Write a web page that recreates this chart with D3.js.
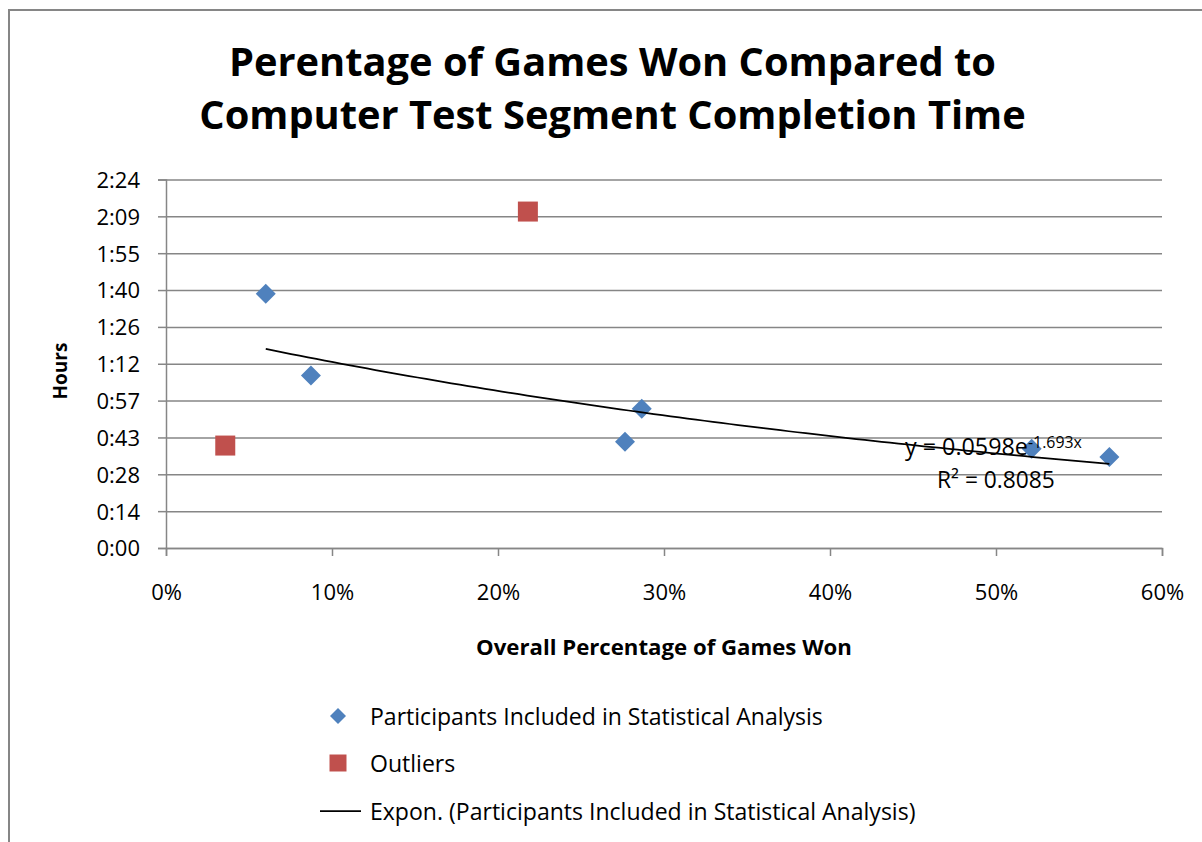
<!DOCTYPE html>
<html>
<head>
<meta charset="utf-8">
<script src="https://cdn.jsdelivr.net/npm/d3@7"></script>
<style>
  html, body { margin: 0; padding: 0; background: #ffffff; }
  svg { display: block; }
</style>
</head>
<body>
<svg id="chart" width="1202" height="842"></svg>
<script>
// ---------- data (x = fraction of games won, y = completion time as fraction of a day) ----------
const includedX = [0.0601, 0.0873, 0.2765, 0.2866, 0.5215, 0.5683];
const includedY = [0.0690, 0.0468, 0.0288, 0.0378, 0.0269, 0.0247];
const outlierX = [0.0357, 0.2180];
const outlierY = [0.0278, 0.0913];
// displayed exponential trendline: y = a * e^(b x)
const trendCoef = [0.0598, -1.693];
const trendR2 = "0.8085";

const xTicks = [0, 0.1, 0.2, 0.3, 0.4, 0.5, 0.6];
const xTickLabels = ["0%", "10%", "20%", "30%", "40%", "50%", "60%"];
const yTicks = [0, 0.01, 0.02, 0.03, 0.04, 0.05, 0.06, 0.07, 0.08, 0.09, 0.10];
const yTickLabels = ["0:00", "0:14", "0:28", "0:43", "0:57", "1:12", "1:26", "1:40", "1:55", "2:09", "2:24"];

const titleLines = ["Perentage of Games Won Compared to", "Computer Test Segment Completion Time"];
const xAxisTitle = "Overall Percentage of Games Won";
const yAxisTitle = "Hours";
const legendLabels = ["Participants Included in Statistical Analysis", "Outliers", "Expon. (Participants Included in Statistical Analysis)"];

// ---------- layout ----------
const FONT = "'Open Sans', 'Noto Sans', sans-serif";
const GRID = "#868686";
const BLUE = "#4F81BD";
const RED = "#C0504D";
const plot = { left: 166, right: 1162, top: 179.5, bottom: 548 };

const svg = d3.select("#chart");
svg.append("rect").attr("x", 0).attr("y", 0).attr("width", 1202).attr("height", 842).attr("fill", "#fff");
// chart border (right/bottom edges outside the picture)
svg.append("rect").attr("x", 9).attr("y", 10).attr("width", 1240).attr("height", 900)
  .attr("fill", "none").attr("stroke", GRID).attr("stroke-width", 2);

const x = d3.scaleLinear().domain([0, 0.6]).range([plot.left, plot.right]);
const y = d3.scaleLinear().domain([0, 0.1]).range([plot.bottom, plot.top]);

function fitText(sel, width) {
  const base = 20;
  sel.style("font-size", base + "px");
  const w = sel.node().getComputedTextLength();
  const fs = base * width / w;
  sel.style("font-size", fs + "px");
  return fs;
}

// gridlines
const grid = svg.append("g").attr("transform", `translate(${plot.left},0)`)
  .call(d3.axisLeft(y).tickValues(yTicks).tickSize(-(plot.right - plot.left)).tickFormat(""));
grid.select(".domain").remove();
grid.selectAll("line").attr("stroke", GRID).attr("stroke-width", 1.5);

// y axis
const yAxis = svg.append("g").attr("transform", `translate(${plot.left},0)`)
  .call(d3.axisLeft(y).tickValues(yTicks).tickSize(8).tickFormat((d, i) => yTickLabels[i]));
yAxis.select(".domain").attr("stroke", GRID).attr("stroke-width", 1.5);
yAxis.selectAll(".tick line").attr("stroke", GRID).attr("stroke-width", 1.5);
yAxis.selectAll("text").attr("x", -26).attr("dy", "0.36em")
  .style("font-family", FONT).style("font-size", "22px").attr("fill", "#000");

// x axis
const xAxis = svg.append("g").attr("transform", `translate(0,${plot.bottom})`)
  .call(d3.axisBottom(x).tickValues(xTicks).tickSize(8).tickFormat((d, i) => xTickLabels[i]));
xAxis.select(".domain").attr("stroke", GRID).attr("stroke-width", 1.5);
xAxis.selectAll(".tick line").attr("stroke", GRID).attr("stroke-width", 1.5);
xAxis.selectAll("text").attr("y", 52).attr("dy", 0)
  .style("font-family", FONT).style("font-size", "22px").attr("fill", "#000");

// markers
const diamond = d3.symbol().type(d3.symbolSquare);
const included = includedX.map((v, i) => ({ x: v, y: includedY[i] }));
const outliers = outlierX.map((v, i) => ({ x: v, y: outlierY[i] }));

svg.append("g").selectAll("path").data(included).join("path")
  .attr("d", diamond.size(200)())
  .attr("transform", d => `translate(${x(d.x)},${y(d.y)}) rotate(45)`)
  .attr("fill", BLUE);

svg.append("g").selectAll("path").data(outliers).join("path")
  .attr("d", d3.symbol().type(d3.symbolSquare).size(400)())
  .attr("transform", d => `translate(${x(d.x)},${y(d.y)})`)
  .attr("fill", RED);

// trendline drawn over the fitted range
const xMin = d3.min(includedX), xMax = d3.max(includedX);
const trendPts = d3.range(0, 101).map(k => {
  const xv = xMin + (xMax - xMin) * k / 100;
  return [xv, trendCoef[0] * Math.exp(trendCoef[1] * xv)];
});
svg.append("path").datum(trendPts)
  .attr("d", d3.line().x(d => x(d[0])).y(d => y(d[1])))
  .attr("fill", "none").attr("stroke", "#000").attr("stroke-width", 1.75);

// trendline label
const eq = svg.append("text").attr("x", 905).attr("y", 455)
  .style("font-family", FONT).attr("fill", "#000")
  .text("y = " + trendCoef[0] + "e");
const eqFs = fitText(eq, 123);
svg.append("text").attr("x", 905 + 123).attr("y", 448)
  .style("font-family", FONT).style("font-size", (eqFs * 0.68) + "px").attr("fill", "#000")
  .text(trendCoef[1] + "x");
const r2 = svg.append("text").attr("x", 937).attr("y", 488)
  .style("font-family", FONT).attr("fill", "#000")
  .text("R² = " + trendR2);
fitText(r2, 118);

// title
const t1 = svg.append("text").attr("x", 612.5).attr("y", 76).attr("text-anchor", "middle")
  .style("font-family", FONT).style("font-weight", 700).attr("fill", "#000").text(titleLines[0]);
const t2 = svg.append("text").attr("x", 612.5).attr("y", 129).attr("text-anchor", "middle")
  .style("font-family", FONT).style("font-weight", 700).attr("fill", "#000").text(titleLines[1]);
const fsA = fitText(t1, 769), fsB = fitText(t2, 825);
const fsT = (fsA + fsB) / 2;
t1.style("font-size", fsT + "px");
t2.style("font-size", fsT + "px");

// axis titles
const xt = svg.append("text").attr("x", (plot.left + plot.right) / 2).attr("y", 655).attr("text-anchor", "middle")
  .style("font-family", FONT).style("font-weight", 700).attr("fill", "#000").text(xAxisTitle);
fitText(xt, 376);
const yt = svg.append("text").attr("transform", "translate(67,371) rotate(-90)").attr("text-anchor", "middle")
  .style("font-family", FONT).style("font-weight", 700).attr("fill", "#000").text(yAxisTitle);
fitText(yt, 57);

// legend
const lg = svg.append("g");
lg.append("path").attr("d", diamond.size(128)())
  .attr("transform", "translate(338,716) rotate(45)").attr("fill", BLUE);
lg.append("path").attr("d", d3.symbol().type(d3.symbolSquare).size(289)())
  .attr("transform", "translate(338,763)").attr("fill", RED);
lg.append("line").attr("x1", 320).attr("x2", 361).attr("y1", 811).attr("y2", 811)
  .attr("stroke", "#000").attr("stroke-width", 1.75);
const legBase = [725, 772, 820];
const legTexts = legendLabels.map((s, i) => lg.append("text").attr("x", 370).attr("y", legBase[i])
  .style("font-family", FONT).attr("fill", "#000").text(s));
const legFs = fitText(legTexts[2], 546);
legTexts.forEach(t => t.style("font-size", legFs + "px"));
</script>
</body>
</html>
